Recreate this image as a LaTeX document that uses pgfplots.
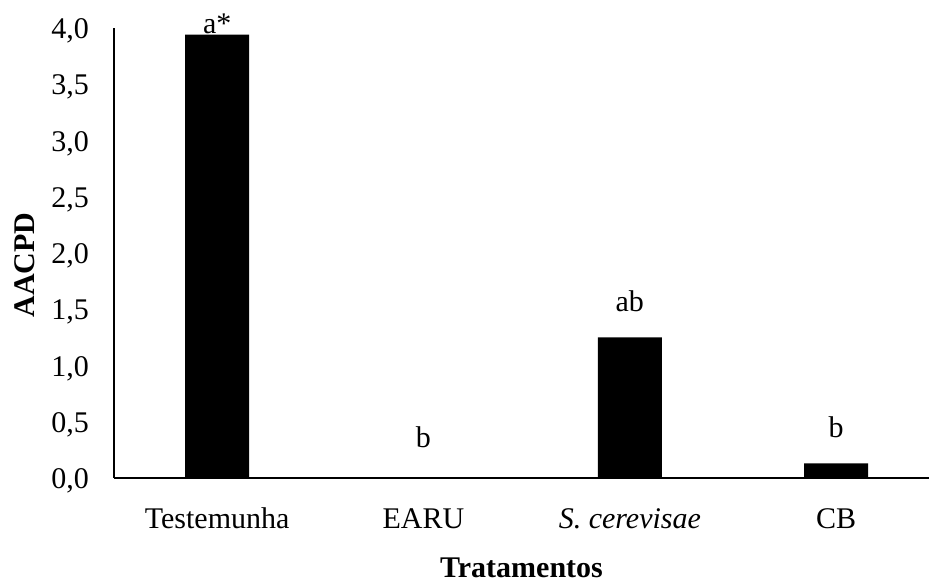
\documentclass[border=0pt]{standalone}
\usepackage{fontspec}
\setmainfont{Liberation Serif}
\usepackage{pgfplots}
\pgfplotsset{compat=1.18}
\begin{document}
\begin{tikzpicture}[font=\fontsize{30}{36}\selectfont]
\begin{axis}[
  at={(0,0)}, anchor=south west,
  scale only axis, width=815pt, height=450pt,
  xmin=-0.5, xmax=3.45, ymin=0, ymax=4,
  axis lines=left,
  axis line style={line width=2.5pt, -},
  major tick length=0pt,
  xtick={0,1,2,3},
  xticklabels={Testemunha, EARU, \textit{S. cerevisae}, CB},
  xticklabel style={anchor=base, yshift=-51pt, inner sep=0pt},
  ytick={0,0.5,1,1.5,2,2.5,3,3.5,4},
  yticklabel style={anchor=east, xshift=-25pt, yshift=-3pt, inner sep=0pt,
    /pgf/number format/.cd, fixed, fixed zerofill, precision=1, use comma, assume math mode=true},
  xlabel={Tratamentos},
  xlabel style={at={(axis description cs:0.5,0)}, anchor=base, yshift=-100pt, inner sep=0pt, font=\fontsize{30}{36}\selectfont\bfseries},
  ylabel={AACPD},
  ylabel style={at={(axis description cs:0,0.473)}, anchor=center, yshift=89pt, inner sep=0pt, font=\fontsize{30}{36}\selectfont\bfseries},
  clip=false,
  ybar, bar width=64pt, bar shift=0pt,
]
\addplot[fill=black, draw=none] coordinates {(0,3.94) (1,0) (2,1.25) (3,0.13)};
\node[anchor=base, inner sep=0pt] at (axis cs:0,3.95) {a*};
\node[anchor=base, inner sep=0pt] at (axis cs:1,0.267) {b};
\node[anchor=base, inner sep=0pt] at (axis cs:2,1.476) {ab};
\node[anchor=base, inner sep=0pt] at (axis cs:3,0.356) {b};
\end{axis}
\pgfresetboundingbox
\path[use as bounding box] (-114pt,-107pt) rectangle (815pt,478pt);
\end{tikzpicture}
\end{document}
